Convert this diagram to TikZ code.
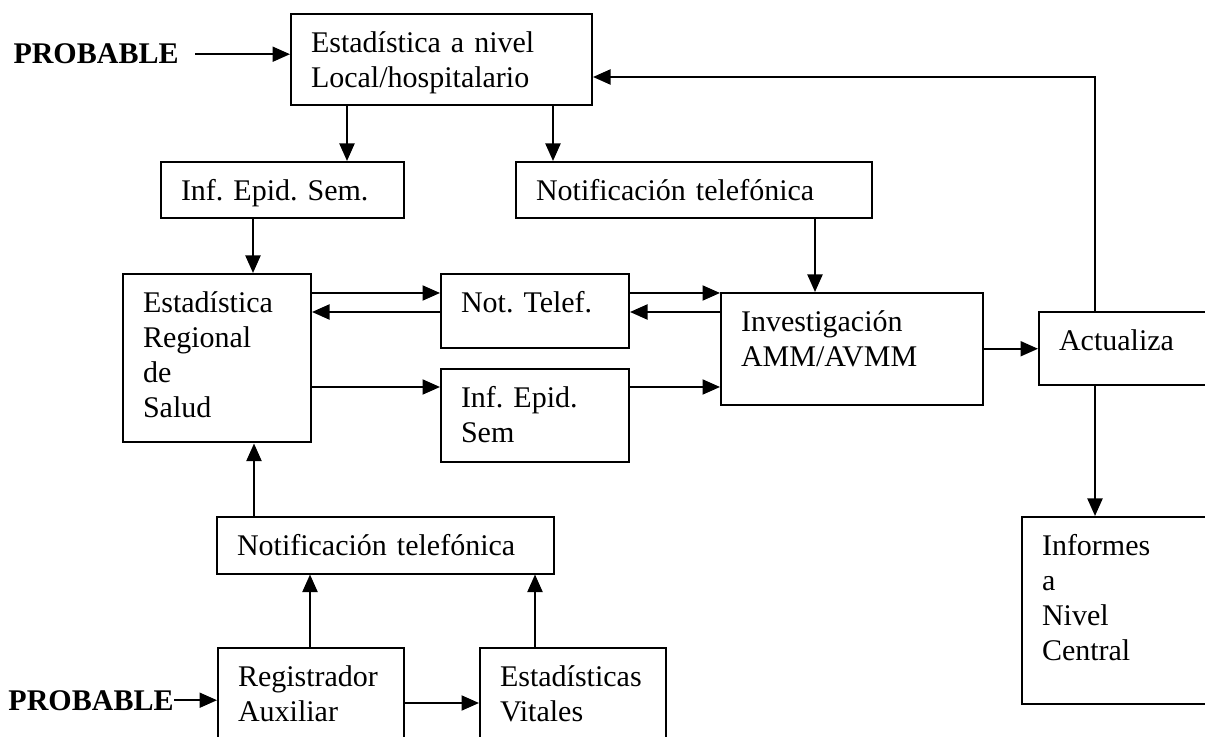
\documentclass[tikz,border=0pt]{standalone}
\usepackage{fontspec}
\setmainfont{Liberation Serif}
\frenchspacing
\usetikzlibrary{arrows.meta}
\tikzset{
  caja/.style={draw, line width=0.8pt, anchor=north west, align=left,
    inner xsep=8pt, inner ysep=0pt, text height=15.4pt,
    font=\fontsize{12}{14}\selectfont},
  flecha/.style={line width=0.8pt, -{Triangle[length=7pt,width=6pt]}},
  rotulo/.style={anchor=base west, inner sep=0pt, font=\fontsize{12}{14}\selectfont\bfseries}
}
\begin{document}
\begin{tikzpicture}[x=0.4pt, y=-0.4pt]
  \useasboundingbox (0,0) rectangle (1205,737);
  \clip (0,0) rectangle (1205,737);

  % cajas
  \node[caja, text width=104.4pt, text depth=21.2pt] (loc) at (290,13) {Estadística a nivel\\Local/hospitalario};
  \node[caja, text width=81.2pt, text depth=7.2pt] (iesA) at (160,161) {Inf. Epid. Sem.};
  \node[caja, text width=126.4pt, text depth=7.2pt] (notA) at (515,161) {Notificación telefónica};
  \node[caja, text width=59.2pt, text depth=52pt] (ers) at (122,273) {Estadística\\Regional\\de\\Salud};
  \node[caja, text width=59.2pt, text depth=14.4pt] (nt) at (440,273) {Not. Telef.};
  \node[caja, text width=59.2pt, text depth=22pt] (iesB) at (440,368) {Inf. Epid.\\Sem};
  \node[caja, text width=88.8pt, text depth=29.6pt] (inv) at (720,292) {Investigación\\AMM/AVMM};
  \node[caja, text width=64pt, text depth=14pt] (act) at (1038,311) {Actualiza};
  \node[caja, text width=64pt, text depth=59.2pt] (infc) at (1021,516) {Informes\\a\\Nivel\\Central};
  \node[caja, text width=118.8pt, text depth=7.2pt] (notB) at (216,516) {Notificación telefónica};
  \node[caja, text width=58.4pt, text depth=29.2pt] (reg) at (217,647) {Registrador\\Auxiliar};
  \node[caja, text width=58.4pt, text depth=29.2pt] (ev) at (479,647) {Estadísticas\\Vitales};

  \node[rotulo] (probA) at (13,64) {PROBABLE};
  \node[rotulo] (probB) at (8,710) {PROBABLE};

  % flechas
  \draw[flecha] ([xshift=6.4pt]probA.east) -- (probA.east -| loc.west);
  \draw[flecha] ([xshift=22.8pt]loc.south west) -- ([xshift=22.8pt]loc.south west |- iesA.north);
  \draw[flecha] ([xshift=15.2pt]notA.north west |- loc.south) -- ([xshift=15.2pt]notA.north west);
  \draw[flecha] ([xshift=37.2pt]iesA.south west) -- ([xshift=37.2pt]iesA.south west |- ers.north);
  \draw[flecha] ([xshift=38pt]inv.north west |- notA.south) -- ([xshift=38pt]inv.north west);

  \draw[flecha] ([yshift=-8pt]ers.north east) -- ([yshift=-8pt]nt.north west);
  \draw[flecha] ([yshift=-15.6pt]nt.north west) -- ([yshift=-15.6pt]ers.north east);
  \draw[flecha] ([yshift=-7.6pt]iesB.north west -| ers.east) -- ([yshift=-7.6pt]iesB.north west);
  \draw[flecha] ([yshift=-8pt]nt.north east) -- ([yshift=-8pt]nt.north east -| inv.west);
  \draw[flecha] ([yshift=-15.6pt]nt.north east -| inv.west) -- ([yshift=-15.6pt]nt.north east);
  \draw[flecha] ([yshift=-7.6pt]iesB.north east) -- ([yshift=-7.6pt]iesB.north east -| inv.west);
  \draw[flecha] (act.west -| inv.east) -- (act.west);

  \draw[flecha] ([xshift=22.8pt]act.north west) |- ([yshift=-25.6pt]loc.north east);
  \draw[flecha] ([xshift=22.8pt]act.south west) -- ([xshift=22.8pt]act.south west |- infc.north);

  \draw[flecha] ([xshift=15.2pt]notB.north west) -- ([xshift=15.2pt]notB.north west |- ers.south);
  \draw[flecha] ([xshift=37.2pt]reg.north west) -- ([xshift=37.2pt]reg.north west |- notB.south);
  \draw[flecha] ([xshift=22.4pt]ev.north west) -- ([xshift=22.4pt]ev.north west |- notB.south);
  \draw[flecha] (probB.east) -- (probB.east -| reg.west);
  \draw[flecha] ([yshift=-22.4pt]reg.north east) -- ([yshift=-22.4pt]ev.north west);
\end{tikzpicture}
\end{document}
